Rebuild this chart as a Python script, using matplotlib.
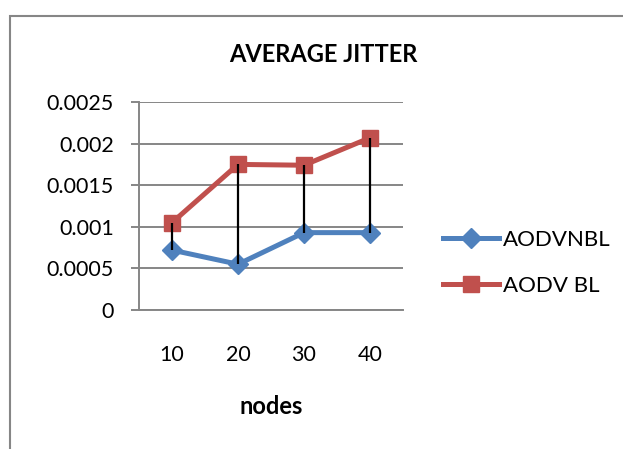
import matplotlib.pyplot as plt
from matplotlib.patches import Rectangle

# jitter per node count
nodes = ['10', '20', '30', '40']
aodv_nbl = [0.00072, 0.00055, 0.00093, 0.00093]
aodv_bl = [0.00105, 0.00175, 0.00174, 0.00207]
yticks = [0, 0.0005, 0.001, 0.0015, 0.002, 0.0025]
ytick_labels = ['0', '0.0005', '0.001', '0.0015', '0.002', '0.0025']

plt.rcParams['font.family'] = ['Lato', 'DejaVu Sans']
grey = '#868686'

fig = plt.figure(figsize=(6.23, 4.49), dpi=100)
ax = fig.add_axes([139/623, 1-310/449, 264/623, 208/449])

x = list(range(len(nodes)))

# high-low lines between the two series
ax.vlines(x, aodv_nbl, aodv_bl, color='black', lw=1.6, zorder=4)

ax.plot(x, aodv_nbl, color='#4F81BD', lw=3.6, marker='D', ms=10,
        label='AODVNBL', zorder=3)
ax.plot(x, aodv_bl, color='#C0504D', lw=3.6, marker='s', ms=11.5,
        label='AODV BL', zorder=3)

ax.set_xlim(-0.5, len(nodes)-0.5)
ax.set_ylim(0, 0.0025)
ax.set_xticks(x)
ax.set_xticklabels(nodes)
ax.set_yticks(yticks)
ax.set_yticklabels(ytick_labels)
ax.tick_params(axis='y', length=6, width=1.4, color=grey, labelsize=15.5, pad=12)
ax.tick_params(axis='x', length=0, labelsize=15.5, pad=25)

ax.grid(axis='y', color=grey, lw=1.4)
ax.set_axisbelow(True)
for s in ['top', 'right']:
    ax.spines[s].set_visible(False)
ax.spines['left'].set_color(grey)
ax.spines['left'].set_linewidth(1.4)
ax.spines['bottom'].set_color(grey)
ax.spines['bottom'].set_linewidth(1.4)

ax.set_xlabel('nodes', fontsize=17, fontweight='bold', labelpad=22)
fig.text(323/623, 1-55/449, 'AVERAGE JITTER', fontsize=17, fontweight='bold',
         ha='center', va='center')

ax.legend(loc='center left', bbox_to_anchor=(443/623, 1-263/449),
          bbox_transform=fig.transFigure, frameon=False, fontsize=16,
          handlelength=2.5, handletextpad=0.18, labelspacing=1.15,
          borderaxespad=0, borderpad=0)

# chart border
fig.add_artist(Rectangle((10/623, -0.1), 1.0, 1.1-16/449,
                         transform=fig.transFigure, fill=False,
                         edgecolor=grey, lw=1.5))

fig.savefig('out.png', dpi=100)
